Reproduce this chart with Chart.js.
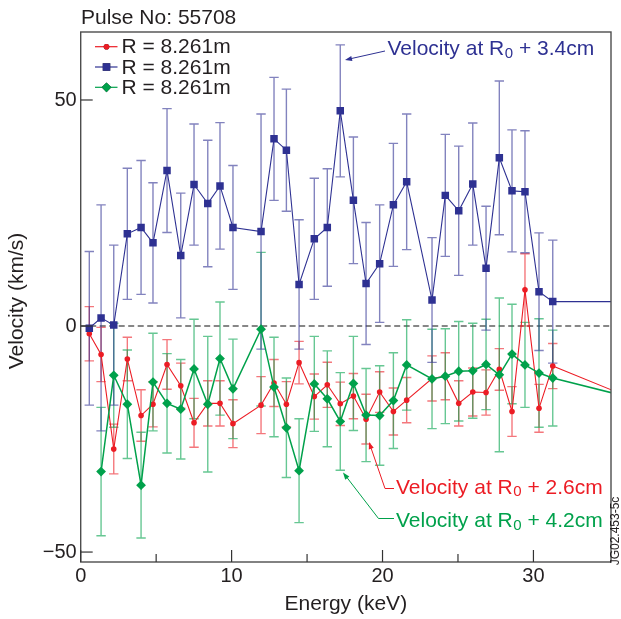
<!DOCTYPE html>
<html><head><meta charset="utf-8">
<script src="https://cdn.jsdelivr.net/npm/chart.js@4.4.1/dist/chart.umd.min.js"></script>
<style>html,body{margin:0;padding:0;background:#fff;overflow:hidden}#wrap{width:621px;height:619px;position:relative}canvas{display:block}</style>
</head><body><div id="wrap"><canvas id="c" width="621" height="619"></canvas></div>
<script>
// ---- data ----
const energy = [0.57,1.35,2.19,3.09,4.0,4.79,5.72,6.63,7.51,8.42,9.23,10.09,11.95,12.81,13.63,14.47,15.48,16.34,17.2,18.07,18.91,19.81,20.72,21.6,23.28,24.16,25.05,25.98,26.86,27.74,28.58,29.44,30.37,31.28,40];
// Velocity at R0 + 2.6cm (red)
const velR26 = [-1.7,-6.3,-27.2,-7.3,-19.8,-17.3,-8.5,-13.2,-21.4,-17.1,-17.1,-21.6,-17.5,-12.6,-17.3,-8.1,-15.6,-13.0,-17.2,-15.5,-20.6,-14.6,-18.9,-16.4,-11.6,-11.1,-17.1,-14.6,-14.7,-9.6,-18.9,8.0,-18.2,-8.85,-20.7];
const errR26 = [6,6,5.5,4.8,5.7,5,5.5,5,5.4,5,5,5.3,6.3,5.2,5,4.7,5,5,4.8,5,5.5,4.5,5.2,5,5,5.2,5,5.3,5,4.6,5.5,8,5.3,5,null];
// Velocity at R0 + 3.4cm (blue)
const velR34 = [-0.5,1.8,0.2,20.4,21.8,18.4,34.4,15.6,31.3,27.1,31.0,21.8,20.9,41.4,38.9,9.2,19.3,21.8,47.6,27.8,9.4,13.8,26.8,31.9,5.75,28.9,25.5,31.4,12.8,37.2,29.9,29.7,7.6,5.4,5.4];
const errR34 = [17,25,17.7,14.5,14.8,13.3,13.7,13.8,13.4,14,14,13.7,26,13.6,13.5,14.3,13.4,13,14.6,14,13.5,13,13.6,15,13.8,13.5,14.3,13.5,13.7,17,13.5,13.5,13,13.6,null];
// Velocity at R0 + 4.2cm (green)
const velR42 = [null,-32.2,-10.9,-17.3,-35.2,-12.4,-17.1,-18.4,-9.5,-17.3,-7.2,-13.9,-0.7,-13.5,-22.5,-32.0,-12.8,-16.1,-21.1,-12.7,-19.7,-19.8,-16.5,-8.6,-11.7,-11.1,-10.0,-9.9,-8.5,-10.8,-6.2,-8.6,-10.4,-11.5,-18.8];
const errR42 = [null,14.2,11.5,12,11.7,10.8,11,11,11,15,12.5,11,17,11,11,11.5,10.5,10.6,10.8,10.4,10.3,11,10.6,10,11,10.5,11,10.5,10,17,11,9.4,12,10.6,null];

const xTicks = [0,5,10,15,20,25,30];
const xTickLabels = ['0','','10','','20','','30'];
const yTicks = [-50,0,50];
const yTickLabels = ['\u221250','0','50'];
const legendLabels = ['R = 8.261m','R = 8.261m','R = 8.261m'];
const chartTitle = 'Pulse No: 55708';
const xTitle = 'Energy (keV)';
const yTitle = 'Velocity (km/s)';
const sideLabel = 'JG02.453-5c';

// ---- styles ----
const FONT = '"Liberation Sans", Arial, Helvetica, sans-serif';
const TXT = '#231f20';
const RED = '#ec1c24', BLUE = '#2e3192', GREEN = '#00a14b';

function pts(ys){ return energy.map((x,i)=>({x:x, y:ys[i]})); }

const datasets = [
  {label:legendLabels[0], data:pts(velR26), errs:errR26, errColor:'rgba(236,28,36,0.6)',
   borderColor:RED, backgroundColor:RED, borderWidth:1.1, pointStyle:'circle', pointRadius:2.8,
   pointBackgroundColor:RED, pointBorderWidth:0, order:3},
  {label:legendLabels[2], data:pts(velR42), errs:errR42, errColor:'rgba(0,161,75,0.6)',
   borderColor:GREEN, backgroundColor:GREEN, borderWidth:1.5, pointStyle:'rectRot', pointRadius:4.9,
   pointBackgroundColor:GREEN, pointBorderWidth:0, order:2},
  {label:legendLabels[1], data:pts(velR34), errs:errR34, errColor:'rgba(46,49,146,0.6)',
   borderColor:BLUE, backgroundColor:BLUE, borderWidth:1.1, pointStyle:'rect', pointRadius:5.3,
   pointBackgroundColor:BLUE, pointBorderWidth:0, order:1}
];

const errorBars = {
  id:'errorBars',
  beforeDatasetsDraw(chart){
    const {ctx, chartArea:a, scales:{x,y}} = chart;
    ctx.save();
    ctx.beginPath(); ctx.rect(a.left,a.top,a.right-a.left,a.bottom-a.top); ctx.clip();
    // zero dashed line
    const y0 = y.getPixelForValue(0);
    ctx.setLineDash([6,3.5]); ctx.strokeStyle='#111'; ctx.lineWidth=1.2;
    ctx.beginPath(); ctx.moveTo(a.left,y0); ctx.lineTo(a.right,y0); ctx.stroke();
    ctx.setLineDash([]);
    chart.data.datasets.forEach(ds=>{
      ctx.strokeStyle = ds.errColor; ctx.lineWidth = 1.4;
      ds.data.forEach((p,j)=>{
        const e = ds.errs[j];
        if(p.y==null || e==null) return;
        const px = x.getPixelForValue(p.x);
        const y1 = y.getPixelForValue(p.y+e), y2 = y.getPixelForValue(p.y-e);
        ctx.beginPath();
        ctx.moveTo(px,y1); ctx.lineTo(px,y2);
        ctx.moveTo(px-4.7,y1); ctx.lineTo(px+4.7,y1);
        ctx.moveTo(px-4.7,y2); ctx.lineTo(px+4.7,y2);
        ctx.stroke();
      });
    });
    ctx.restore();
  }
};

function arrowHead(ctx, x0,y0,x1,y1,color){
  const ang = Math.atan2(y1-y0,x1-x0), L=7, W=2.6;
  ctx.fillStyle=color;
  ctx.beginPath();
  ctx.moveTo(x1,y1);
  ctx.lineTo(x1-L*Math.cos(ang)+W*Math.sin(ang), y1-L*Math.sin(ang)-W*Math.cos(ang));
  ctx.lineTo(x1-L*Math.cos(ang)-W*Math.sin(ang), y1-L*Math.sin(ang)+W*Math.cos(ang));
  ctx.closePath(); ctx.fill();
}
function subText(ctx, x, y, main, sub, rest, color){
  ctx.fillStyle=color; ctx.textBaseline='alphabetic'; ctx.textAlign='left';
  ctx.font='21px '+FONT; ctx.fillText(main,x,y); x+=ctx.measureText(main).width;
  ctx.font='15px '+FONT; ctx.fillText(sub,x+0.5,y+2.5); x+=ctx.measureText(sub).width+0.5;
  ctx.font='21px '+FONT; ctx.fillText(rest,x,y);
}

const decor = {
  id:'decor',
  afterDraw(chart){
    const {ctx, chartArea:a, scales:{x,y}} = chart;
    ctx.save();
    // frame
    ctx.strokeStyle='#4d4d4d'; ctx.lineWidth=1.4;
    ctx.strokeRect(a.left,a.top,a.right-a.left,a.bottom-a.top);
    // inward ticks
    ctx.strokeStyle='#333'; ctx.lineWidth=1.2;
    xTicks.forEach(v=>{
      const px = x.getPixelForValue(v), len = (v%10===0)?12:8;
      ctx.beginPath(); ctx.moveTo(px,a.bottom); ctx.lineTo(px,a.bottom-len); ctx.stroke();
    });
    yTicks.forEach(v=>{
      const py = y.getPixelForValue(v);
      ctx.beginPath(); ctx.moveTo(a.left,py); ctx.lineTo(a.left+12,py); ctx.stroke();
    });
    // title
    ctx.fillStyle=TXT; ctx.font='21px '+FONT; ctx.textAlign='left'; ctx.textBaseline='alphabetic';
    ctx.fillText(chartTitle, 81, 23.5);
    // axis titles
    ctx.textAlign='center';
    ctx.fillText(xTitle, (a.left+a.right)/2, 610);
    ctx.save(); ctx.translate(23, (a.top+a.bottom)/2+4); ctx.rotate(-Math.PI/2);
    ctx.fillText(yTitle, 0, 0); ctx.restore();
    // side label
    ctx.save(); ctx.translate(619, 531); ctx.rotate(-Math.PI/2);
    ctx.font='12px '+FONT; ctx.fillStyle=TXT; ctx.textAlign='center';
    ctx.fillText(sideLabel,0,0); ctx.restore();
    // legend
    const legOrder = [0,2,1]; // red, blue, green dataset indices
    legOrder.forEach((di,k)=>{
      const ds = chart.data.datasets[di];
      const ly = 46.7 + 20.3*k;
      ctx.strokeStyle=ds.borderColor; ctx.lineWidth=1.2;
      ctx.beginPath(); ctx.moveTo(95,ly); ctx.lineTo(117.5,ly); ctx.stroke();
      const meta = chart.getDatasetMeta(di);
      Chart.helpers.drawPoint(ctx, {pointStyle:ds.pointStyle, radius:ds.pointRadius, rotation:0, borderWidth:0}, 106.5, ly);
      ctx.fillStyle=ds.borderColor; ctx.fill();
      ctx.fillStyle=TXT; ctx.font='21px '+FONT; ctx.textAlign='left'; ctx.textBaseline='middle';
      ctx.fillText(legendLabels[k], 121.5, ly+1);
    });
    ctx.textBaseline='alphabetic';
    // annotations
    ctx.lineWidth=1;
    // blue
    ctx.strokeStyle=BLUE;
    ctx.beginPath(); ctx.moveTo(385,51); ctx.lineTo(347,59.5); ctx.stroke();
    arrowHead(ctx,385,51,345,60,BLUE);
    subText(ctx,387.5,55,'Velocity at R','0',' + 3.4cm',BLUE);
    // red
    ctx.strokeStyle=RED;
    ctx.beginPath(); ctx.moveTo(394,488.5); ctx.lineTo(385,488.5); ctx.lineTo(370,445); ctx.stroke();
    arrowHead(ctx,385,488.5,369,442,RED);
    subText(ctx,396,493.5,'Velocity at R','0',' + 2.6cm',RED);
    // green
    ctx.strokeStyle=GREEN;
    ctx.beginPath(); ctx.moveTo(394,518.5); ctx.lineTo(378.5,518.5); ctx.lineTo(345,475); ctx.stroke();
    arrowHead(ctx,378.5,518.5,343,472.5,GREEN);
    subText(ctx,396,527,'Velocity at R','0',' + 4.2cm',GREEN);
    ctx.restore();
  }
};

new Chart(document.getElementById('c'), {
  type:'line',
  data:{datasets:datasets},
  options:{
    responsive:false, animation:false, events:[],
    layout:{padding:{top:32,right:10,left:0,bottom:0}},
    plugins:{legend:{display:false}, title:{display:false}, tooltip:{enabled:false}},
    elements:{line:{tension:0}},
    scales:{
      x:{type:'linear', min:0, max:35.14,
         grid:{display:false, drawTicks:false}, border:{display:false},
         afterBuildTicks:s=>{ s.ticks = xTicks.map(v=>({value:v})); },
         afterFit:s=>{ s.height = 57; },
         ticks:{autoSkip:false, maxRotation:0, minRotation:0, padding:2, color:TXT,
                font:{family:FONT, size:20},
                callback:(v)=>{ const i = xTicks.indexOf(v); return i<0?'':xTickLabels[i]; }}},
      y:{type:'linear', min:-52.2, max:65.04,
         grid:{display:false, drawTicks:false}, border:{display:false},
         afterBuildTicks:s=>{ s.ticks = yTicks.map(v=>({value:v})); },
         afterFit:s=>{ s.width = 80.7; },
         ticks:{padding:4, color:TXT, font:{family:FONT, size:20},
                callback:(v)=>{ const i = yTicks.indexOf(v); return i<0?'':yTickLabels[i]; }}}
    }
  },
  plugins:[errorBars, decor]
});
</script></body></html>
